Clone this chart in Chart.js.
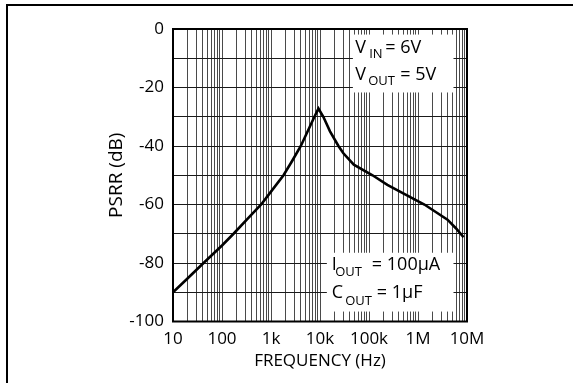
<!DOCTYPE html>
<html lang="en">
<head>
  <meta charset="UTF-8">
  <title>PSRR vs Frequency</title>
  <script src="https://cdn.jsdelivr.net/npm/chart.js"></script>
  <style>
    html, body { margin: 0; padding: 0; background: #fff; }
    #wrap { position: relative; width: 573px; height: 383px; overflow: hidden; }
    #frame { position: absolute; left: 6px; top: 4px; width: 600px; height: 400px; border-left: 2px solid #000; border-top: 2px solid #000; pointer-events: none; }
  </style>
</head>
<body>
<div id="wrap">
  <canvas id="psrrChart" width="573" height="383"></canvas>
  <div id="frame"></div>
</div>

<script>
// curve
const freqHz = [10, 20, 42, 100, 172, 350, 630, 1000, 1800, 2660, 4060, 7700, 9300,
  11700, 16000, 23800, 30000, 49000, 118000, 237000, 500000, 1350000, 4000000, 6000000, 8500000];
const psrrDb = [-90, -85.2, -80, -74, -70, -64.5, -60, -55.6, -50, -45.3, -40, -30, -27.2,
  -30, -35, -40, -42.5, -46.4, -50, -53.3, -56.2, -60, -65.2, -68.2, -71.2];

const decades = [10, 100, 1000, 10000, 100000, 1000000, 10000000];
const decadeLabels = ['10', '100', '1k', '10k', '100k', '1M', '10M'];
const yTickLabels = [0, -20, -40, -60, -80, -100];

const FONT = '"Open Sans", sans-serif';

// grid ticks: 1..9 in every decade
const xGridTicks = [];
decades.forEach((d, i) => {
  if (i === decades.length - 1) { xGridTicks.push(d); return; }
  for (let m = 1; m <= 9; m++) xGridTicks.push(d * m);
});

// text boxes, placed in data units
const notes = [
  { x0: 46900, x1: 5300000, y0: -1.9, y1: -21.7,
    lines: [
      { base: 18.3, parts: [['V', 2.3, 0], ['IN', 16.3, 5], ['= 6V', 32.3, 0]] },
      { base: 45, parts: [['V', 2.3, 0], ['OUT', 15.3, 5], ['= 5V', 47.3, 0]] }
    ] },
  { x0: 13800, x1: 5300000, y0: -76.5, y1: -96.6,
    lines: [
      { base: 17, parts: [['I', 5, 0], ['OUT', 8.3, 6.7], ['= 100\u00b5A', 45, 0]] },
      { base: 45, parts: [['C', 5, 0], ['OUT', 18.3, 7], ['= 1\u00b5F', 50, 0]] }
    ] }
];

const notesPlugin = {
  id: 'notes',
  beforeDatasetsDraw(chart) {
    const { ctx, scales: { x, y } } = chart;
    ctx.save();
    notes.forEach(n => {
      const left = x.getPixelForValue(n.x0), right = x.getPixelForValue(n.x1);
      const top = y.getPixelForValue(n.y0), bottom = y.getPixelForValue(n.y1);
      ctx.fillStyle = '#fff';
      ctx.fillRect(left, top, right - left, bottom - top);
      ctx.fillStyle = '#000';
      ctx.textBaseline = 'alphabetic';
      ctx.textAlign = 'left';
      n.lines.forEach(l => {
        l.parts.forEach(([txt, dx, dy]) => {
          ctx.font = (dy ? '13px ' : '18px ') + FONT;
          ctx.fillText(txt, left + dx, top + l.base + dy);
        });
      });
    });
    ctx.restore();
  },
  afterDraw(chart) {
    const { ctx, chartArea: a } = chart;
    ctx.save();
    ctx.strokeStyle = '#000';
    ctx.lineWidth = 2;
    ctx.strokeRect(a.left, a.top, a.right - a.left, a.bottom - a.top);
    ctx.restore();
  }
};

new Chart(document.getElementById('psrrChart'), {
  type: 'line',
  data: {
    datasets: [{
      data: freqHz.map((f, i) => ({ x: f, y: psrrDb[i] })),
      borderColor: '#000',
      borderWidth: 2.6,
      pointRadius: 0,
      tension: 0,
      fill: false
    }]
  },
  options: {
    responsive: false,
    animation: false,
    layout: { padding: { top: 29, right: 106, left: 0, bottom: 0 } },
    plugins: { legend: { display: false }, tooltip: { enabled: false } },
    scales: {
      x: {
        type: 'logarithmic',
        min: 10,
        max: 10000000,
        afterFit: s => { s.height = 61.5; },
        afterBuildTicks: s => { s.ticks = xGridTicks.map(v => ({ value: v })); },
        grid: { color: '#4a4a4a', lineWidth: 1, drawTicks: false },
        border: { display: false },
        ticks: {
          autoSkip: false,
          maxRotation: 0,
          padding: 7,
          color: '#000',
          font: { family: FONT, size: 17 },
          callback: v => {
            const i = decades.indexOf(v);
            return i >= 0 ? decadeLabels[i] : '';
          }
        },
        title: {
          display: true,
          text: 'FREQUENCY (Hz)',
          color: '#000',
          font: { family: FONT, size: 17 },
          padding: { top: 12, bottom: 12 }
        }
      },
      y: {
        min: -100,
        max: 0,
        afterFit: s => { s.width = 173; },
        grid: { color: '#1a1a1a', lineWidth: 1, drawTicks: false },
        border: { display: false },
        ticks: {
          stepSize: 10,
          padding: 9,
          color: '#000',
          font: { family: FONT, size: 17 },
          callback: v => (yTickLabels.includes(v) ? String(v) : '')
        },
        title: {
          display: true,
          text: 'PSRR (dB)',
          color: '#000',
          font: { family: FONT, size: 19 },
          padding: { top: 105, bottom: 105 }
        }
      }
    }
  },
  plugins: [notesPlugin]
});
</script>
</body>
</html>
